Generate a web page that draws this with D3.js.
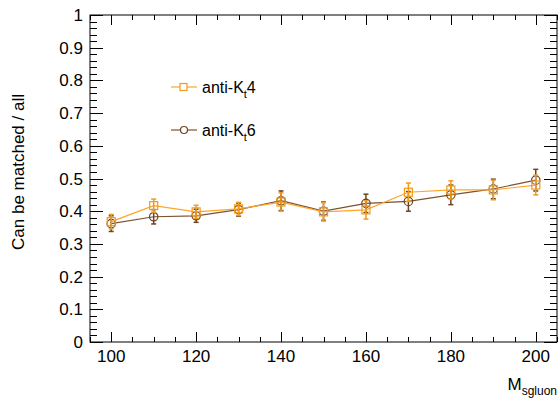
<!DOCTYPE html>
<html><head><meta charset="utf-8">
<script src="https://cdn.jsdelivr.net/npm/d3@7"></script>
<style>body{margin:0;background:#fff}svg{display:block;font-family:"Liberation Sans",Arial,sans-serif}</style>
</head><body><svg id="c" width="560" height="403"></svg>
<script>
const masses = [100,110,120,130,140,150,160,170,180,190,200];
const kt4 = [0.368,0.417,0.398,0.407,0.428,0.398,0.404,0.458,0.465,0.465,0.480];
const kt4Err = [0.022,0.020,0.020,0.020,0.028,0.028,0.028,0.028,0.028,0.030,0.030];
const kt6 = [0.362,0.383,0.386,0.405,0.432,0.400,0.424,0.430,0.450,0.468,0.495];
const kt6Err = [0.024,0.022,0.020,0.020,0.030,0.028,0.028,0.030,0.030,0.030,0.033];
const yTicks = [0,0.1,0.2,0.3,0.4,0.5,0.6,0.7,0.8,0.9,1];
const xTicks = [100,120,140,160,180,200];
const seriesNames = ["anti-K","anti-K"];

const L=90,R=557,T=15,B=342;
const svg=d3.select("#c");
const x=d3.scaleLinear().domain([95,205]).range([L,R]);
const y=d3.scaleLinear().domain([0,1]).range([B,T]);

// frame
svg.append("rect").attr("x",L).attr("y",T).attr("width",R-L).attr("height",B-T)
  .attr("fill","none").attr("stroke","#000").attr("stroke-width",1);

// y ticks
const yMinor=d3.range(0,1.0001,0.02);
const g=svg.append("g").attr("stroke","#000").attr("stroke-width",1);
yMinor.forEach(v=>{
  const major=Math.abs(v*10-Math.round(v*10))<1e-6;
  const len=major?13:7;
  const yy=Math.round(y(v))+0.5;
  g.append("line").attr("x1",L).attr("x2",L+len).attr("y1",yy).attr("y2",yy);
  g.append("line").attr("x1",R-len).attr("x2",R).attr("y1",yy).attr("y2",yy);
});
// x ticks
const xMinor=d3.range(95,205.001,5);
xMinor.forEach(v=>{
  const major=v%20===0;
  const len=major?10:5;
  const xx=Math.round(x(v))+0.5;
  g.append("line").attr("x1",xx).attr("x2",xx).attr("y1",B).attr("y2",B-len);
  g.append("line").attr("x1",xx).attr("x2",xx).attr("y1",T).attr("y2",T+len);
});

// tick labels
svg.selectAll(".yl").data(yTicks).enter().append("text")
  .attr("x",83).attr("y",d=>y(d)+6).attr("text-anchor","end")
  .attr("font-size",17).text(d=>d===0?"0":d===1?"1":d3.format(".1f")(d));
svg.selectAll(".xl").data(xTicks).enter().append("text")
  .attr("x",d=>x(d)).attr("y",362).attr("text-anchor","middle")
  .attr("font-size",17).text(d=>d);

// axis titles
svg.append("text").attr("transform","translate(24,172) rotate(-90)")
  .attr("text-anchor","middle").attr("font-size",17).text("Can be matched / all");
const xt=svg.append("text").attr("x",557).attr("y",390).attr("text-anchor","end").attr("font-size",17);
xt.append("tspan").text("M");
xt.append("tspan").attr("font-size",12).attr("dy",5).text("sgluon");

function drawSeries(vals,errs,color,lineColor,marker){
  const gg=svg.append("g");
  const pts=masses.map((m,i)=>({m,v:vals[i],e:errs[i]}));
  gg.append("path").datum(pts).attr("fill","none").attr("stroke",lineColor).attr("stroke-width",1.2)
    .attr("d",d3.line().x(d=>x(d.m)).y(d=>y(d.v)));
  pts.forEach(d=>{
    const cx=x(d.m);
    gg.append("line").attr("x1",cx).attr("x2",cx).attr("y1",y(d.v+d.e)).attr("y2",y(d.v-d.e))
      .attr("stroke",color).attr("stroke-width",1.5);
    [d.v+d.e,d.v-d.e].forEach(v=>gg.append("line").attr("x1",cx-2.5).attr("x2",cx+2.5)
      .attr("y1",y(v)).attr("y2",y(v)).attr("stroke",color).attr("stroke-width",1.5));
  });
  pts.forEach(d=>{
    if(marker==="square") gg.append("rect").attr("x",x(d.m)-4).attr("y",y(d.v)-4).attr("width",8).attr("height",8)
      .attr("fill","none").attr("stroke",color).attr("stroke-width",1.2);
    else gg.append("circle").attr("cx",x(d.m)).attr("cy",y(d.v)).attr("r",4.2)
      .attr("fill","none").attr("stroke",color).attr("stroke-width",1.2);
  });
}
drawSeries(kt6,kt6Err,"#6b4420","#7a5230","circle");
drawSeries(kt4,kt4Err,"#f29a1a","#ffa52a","square");

// legend
function legend(yy,color,lineColor,marker,sub){
  svg.append("line").attr("x1",171).attr("x2",197).attr("y1",yy).attr("y2",yy).attr("stroke",lineColor).attr("stroke-width",1.2);
  if(marker==="square") svg.append("rect").attr("x",180).attr("y",yy-3.5).attr("width",7).attr("height",7).attr("fill","#fff").attr("stroke",color).attr("stroke-width",1.2);
  else svg.append("circle").attr("cx",184).attr("cy",yy).attr("r",3.5).attr("fill","#fff").attr("stroke",color).attr("stroke-width",1.2);
  const t=svg.append("text").attr("x",202).attr("y",yy+6).attr("font-size",16);
  t.append("tspan").text(seriesNames[0]);
  t.append("tspan").attr("font-size",11).attr("dy",5).text("t");
  t.append("tspan").attr("dy",-5).text(sub);
}
legend(87,"#f29a1a","#ffa52a","square","4");
legend(130,"#6b4420","#7a5230","circle","6");
</script></body></html>
